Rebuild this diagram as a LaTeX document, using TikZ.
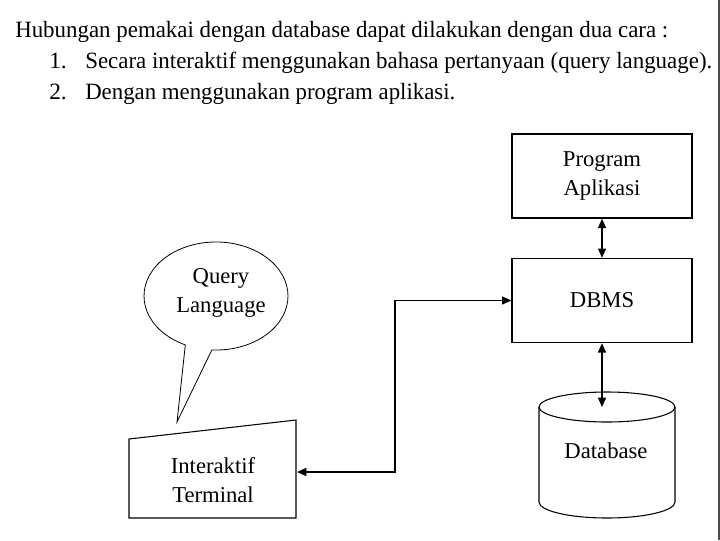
\documentclass[tikz,border=0pt]{standalone}
\usepackage{fontspec}
\setmainfont{Liberation Serif}
\usetikzlibrary{arrows.meta,shapes.geometric}
\newcommand{\hfit}[2]{\resizebox{#1}{\height}{#2}}
\begin{document}
\begin{tikzpicture}[x=0.75pt,y=-0.75pt,
  hdr/.style={anchor=base west, inner sep=0pt, font=\fontsize{17.5}{20}\selectfont},
  lab/.style={align=center, inner sep=0pt, font=\fontsize{17}{22}\selectfont},
  box/.style={draw, line width=1pt, minimum width=135pt, minimum height=63pt, inner sep=0pt, align=center, font=\fontsize{17}{22}\selectfont},
  arr/.style={line width=1pt, {Triangle[length=7pt,width=6pt]}-{Triangle[length=7pt,width=6pt]}},
  thin/.style={line width=0.6pt}]
\useasboundingbox (0,0) rectangle (720,540);
\fill[white] (0,0) rectangle (720,540);
\draw[gray!60!black, line width=1pt] (719,0) -- (719,540);

% header
\node[hdr] (t0) at (15,37) {\hfit{489.75pt}{Hubungan pemakai dengan database dapat dilakukan dengan dua cara :}};
\node[hdr] (n1) at (49,68) {1.};
\node[hdr] (t1) at (85,68) {\hfit{470.25pt}{Secara interaktif menggunakan bahasa pertanyaan (query language).}};
\node[hdr] (n2) at (49,99) {2.};
\node[hdr] (t2) at (85,99) {\hfit{277.5pt}{Dengan menggunakan program aplikasi.}};

% boxes
\node[box] (prog) at (602,176) {Program\\Aplikasi};
\node[box] (dbms) at (602,300.5) {DBMS};

% database cylinder
\draw[line width=0.8pt] (539,407) -- (539,502) arc[start angle=180, end angle=0, x radius=68, y radius=16] -- (675,407);
\draw[line width=0.8pt] (607,407) ellipse [x radius=68, y radius=15];
\node[lab] (db) at (606,451) {Database};
\coordinate (dbtop) at (602,407);

% terminal
\draw[line width=0.8pt] (129,439) -- (296,420) -- (296,518) -- (129,518) -- cycle;
\node[lab] (term) at (213,480) {Interaktif\\Terminal};
\coordinate (termR) at (297,472);

% query callout
\node[ellipse, draw, thin, minimum width=108pt, minimum height=81pt, inner sep=0pt] (q) at (216,296) {};
\fill[white] (185.5,345.5) -- (177,422) -- (211.5,350.5) -- (211.5,336) -- (185.5,336) -- cycle;
\draw[thin] (185.3,345) -- (177,422) -- (211.7,350.2);
\node[lab] (qt) at (221,293) {Query\\Language};

% connectors
\draw[arr] (prog.south) -- (dbms.north);
\draw[arr] (dbms.south) -- (dbtop);
\draw[arr] (termR) -- ++(98,0) |- (dbms.west);
\end{tikzpicture}
\end{document}
